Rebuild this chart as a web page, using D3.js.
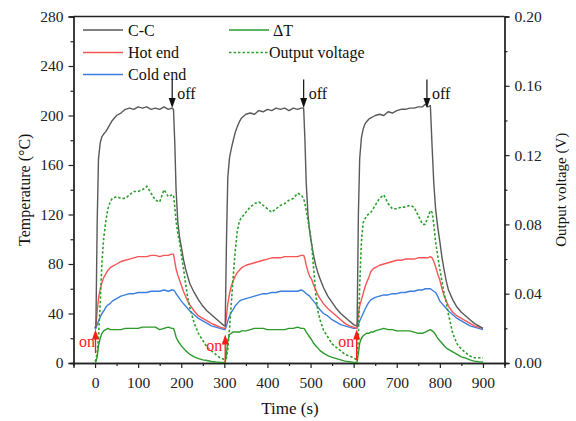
<!DOCTYPE html>
<html><head><meta charset="utf-8">
<script src="https://cdn.jsdelivr.net/npm/d3@7/dist/d3.min.js"></script>
<style>
body{margin:0;background:#fff;}
svg{display:block;font-family:"Liberation Serif","Times New Roman",serif;}
</style></head>
<body><svg id="c" width="576" height="421"></svg>
<script>
const time = [0,2,5,8,12,16,20,25,30,35,40,50,60,70,80,90,100,110,120,130,140,150,160,170,178,182,185,188,192,196,200,205,210,215,220,230,240,250,260,270,280,290,300,
302,305,308,312,316,320,325,330,335,340,350,360,370,380,390,400,410,420,430,440,450,460,470,478,484,487,490,494,498,502,507,512,517,522,530,540,550,560,570,580,590,600,606,
608,611,614,618,622,626,630,635,640,645,650,660,670,680,690,700,710,720,730,740,750,760,766,772,778,782,786,790,795,800,805,810,815,820,830,840,850,860,870,880,890,900];

const ccTemp = [28,30,115,165,178,183,185,187,190,193,196,200,202,205,206,205,207,206,207,205,206,205,207,205,206,205,178,140,114,102,94,84,76,70,64,57,51,46,42,39,36,33,30,
30,100,150,166,173,179,186,191,195,198,201,202,201,204,203,205,204,206,205,206,204,206,205,206,206,180,145,120,106,97,87,79,73,68,61,54,49,44,40,37,34,31,30,
30,120,165,182,189,193,195,197,198,199,200,201,200,203,202,204,205,205,206,206,207,207,209,207,208,175,145,125,110,98,85,75,66,59,51,45,41,38,35,32,30,28];

const hotEnd = [28,30,42,52,60,65,69,72,75,77,78,80,82,83,84,85,86,86,86,87,87,86,87,87,88,88,82,76,71,67,63,58,54,50,47,42,38,36,34,32,30.5,29,28,
28,38,48,56,62,66,70,73,75,77,79,80,81,82,83,84,85,85,85,86,86,86,86,87,87,84,79,74,70,68,63,59,55,52,48,44,41,38,35,32,30,29,28,
29,40,46,51,56,61,65,69,74,76,77,79,80,81,82,83,83,84,84,84,85,85,85,85,86,85,82,78,72,67,60,54,50,46,41,38,36,34,32,30,29,28];

const coldEnd = [27,28,31,34,37,40,42,45,47,48,50,52,54,55,56,56,57,57,57,58,58,58,59,58,59,59,58,56,54,52,50,48,46,44,42,39,36,34,32,30,29,28,27,
27,30,34,38,41,43,46,48,50,51,52,53,54,55,56,56,57,57,58,58,58,58,58,59,58,57,56,55,54,52,50,48,45,43,40,38,35,33,31,30,29,28,28,
28,31,34,37,40,43,46,49,51,52,53,54,55,55,56,56,57,57,58,58,59,59,60,60,60,59,58,57,54,50,48,46,44,42,39,36,34,32,30,29,28,27];

const deltaT = [0,1,5,14,20,24,26,27,28,27,27,27,27,28,28,28,28,29,29,29,29,27,28,29,28,28,25,21,18,16,14,12,10,8.5,7,5,3.5,2.5,2,1.2,0.8,0.6,0.5,
0.5,8,18,23,24,25,25,25,25,26,26,27,28,28,28,27,27,27,27,27,28,28,29,28,28,27,25,23,21,19,16,14,12,10,8,6,4.5,3.5,2.5,1.5,1,0.5,0.5,
0.5,8,16,20,22,23,24,24,25,25,26,27,28,27,27,26,26,26,26,25,24,24,25,26,27,26,25,23,20,18,16,14,12,11,9,7,5,4,2.5,1.5,1,0.8];

const voltage = [0.001,0.002,0.006,0.015,0.035,0.058,0.072,0.082,0.089,0.093,0.095,0.096,0.095,0.095,0.097,0.099,0.099,0.100,0.102,0.098,0.094,0.093,0.100,0.096,0.097,0.097,0.090,0.082,0.075,0.070,0.063,0.055,0.046,0.038,0.032,0.023,0.017,0.013,0.009,0.007,0.005,0.003,0.002,
0.002,0.003,0.008,0.020,0.034,0.048,0.064,0.076,0.082,0.084,0.087,0.090,0.092,0.093,0.091,0.089,0.087,0.089,0.091,0.092,0.094,0.095,0.098,0.097,0.095,0.092,0.088,0.082,0.077,0.070,0.055,0.040,0.030,0.025,0.019,0.015,0.011,0.009,0.007,0.005,0.004,0.003,0.002,
0.002,0.015,0.045,0.070,0.081,0.083,0.085,0.086,0.087,0.089,0.091,0.095,0.097,0.092,0.089,0.089,0.090,0.090,0.091,0.090,0.085,0.080,0.080,0.084,0.088,0.087,0.080,0.070,0.062,0.054,0.047,0.040,0.035,0.028,0.017,0.011,0.008,0.006,0.004,0.003,0.003,0.003];

const xTicks = [0,100,200,300,400,500,600,700,800,900];
const xMinor = [-50,50,150,250,350,450,550,650,750,850,950];
const yTicks = [0,40,80,120,160,200,240,280];
const yMinor = [20,60,100,140,180,220,260];
const vTicks = [0.00,0.04,0.08,0.12,0.16,0.20];
const vMinor = [0.02,0.06,0.10,0.14,0.18];

const seriesNames = ["C-C","Hot end","Cold end","\u0394T","Output voltage"];
const seriesColors = ["#595959","#f75555","#3a7fe0","#2b9a2b","#2ca02c"];

const offTimes = [179,484,770], offFrom = [229,229,229], offTo = [206,206,206];
const onTimes = [1,302,607], onFrom = [8,0,2], onTo = [27,23,27];
const onLabelTimes = [-37,258,564], onLabelY = [13,10,13];

const svg = d3.select("#c");
const L=73.5, R=504.5, T=16.5, B=363;
const x = d3.scaleLinear().domain([-50,950]).range([L,R]);
const y = d3.scaleLinear().domain([0,280]).range([B,T]);
const yv = d3.scaleLinear().domain([0,0.2]).range([B,T]);
const font = "15.5px";
const axCol = "#222";

function styleAxis(g, labels){
  g.selectAll("path").attr("stroke",axCol).attr("stroke-width",1.3);
  g.selectAll("line").attr("stroke",axCol).attr("stroke-width",1.2);
  g.selectAll("text").attr("fill","#222").style("font-size",font).style("font-family","'Liberation Serif',serif");
  if(!labels) g.selectAll("text").remove();
}
svg.append("g").attr("transform",`translate(0,${B})`).call(d3.axisBottom(x).tickValues(xMinor).tickSize(3).tickFormat("")).call(g=>styleAxis(g,false));
svg.append("g").attr("transform",`translate(0,${B})`).call(d3.axisBottom(x).tickValues(xTicks).tickSize(5).tickPadding(9).tickFormat(d3.format("d"))).call(g=>styleAxis(g,true));
svg.append("g").attr("transform",`translate(${L},0)`).call(d3.axisLeft(y).tickValues(yMinor).tickSize(3).tickFormat("")).call(g=>styleAxis(g,false));
svg.append("g").attr("transform",`translate(${L},0)`).call(d3.axisLeft(y).tickValues(yTicks).tickSize(5).tickPadding(5).tickFormat(d3.format("d"))).call(g=>styleAxis(g,true));
svg.append("g").attr("transform",`translate(${R},0)`).call(d3.axisRight(yv).tickValues(vMinor).tickSize(3).tickFormat("")).call(g=>styleAxis(g,false));
svg.append("g").attr("transform",`translate(${R},0)`).call(d3.axisRight(yv).tickValues(vTicks).tickSize(5).tickPadding(5).tickFormat(d3.format(".2f"))).call(g=>styleAxis(g,true));
svg.append("line").attr("x1",L).attr("x2",R).attr("y1",T).attr("y2",T).attr("stroke",axCol).attr("stroke-width",1.3);

const tempSeries = [ccTemp, hotEnd, coldEnd, deltaT];
const lineT = d3.line().x((d,i)=>x(time[i])).y(d=>y(d));
const lineV = d3.line().x((d,i)=>x(time[i])).y(d=>yv(d));
[3,2,1,0].forEach(k=>{
  svg.append("path").datum(tempSeries[k]).attr("d",lineT).attr("fill","none")
    .attr("stroke",seriesColors[k]).attr("stroke-width",1.4).attr("stroke-linejoin","round");
});
svg.append("path").datum(voltage).attr("d",lineV).attr("fill","none")
  .attr("stroke",seriesColors[4]).attr("stroke-width",1.6).attr("stroke-dasharray","2.5,2");

const legX1=[83,229], legY=[30,52.5,74.5];
const legItems = [[0,0,0],[0,1,1],[0,2,2],[1,0,3],[1,1,4]];
legItems.forEach(([c,r,k])=>{
  const lx = legX1[c];
  svg.append("line").attr("x1",lx).attr("x2",lx+40).attr("y1",legY[r]).attr("y2",legY[r])
    .attr("stroke",seriesColors[k]).attr("stroke-width",1.5)
    .attr("stroke-dasharray",k===4?"2.5,2":null);
  svg.append("text").attr("x",lx+(k===4?40:(k===3?44:45))).attr("y",legY[r]+5.5)
    .style("font-size","16px").attr("fill","#111").text(seriesNames[k]);
});

offTimes.forEach((t,i)=>{
  const xx=x(t), y1=y(offFrom[i]), y2=y(offTo[i]);
  svg.append("line").attr("x1",xx).attr("x2",xx).attr("y1",y1).attr("y2",y2-6).attr("stroke","#111").attr("stroke-width",1.2);
  svg.append("path").attr("d",`M${xx-3.5},${y2-10}L${xx+3.5},${y2-10}L${xx},${y2}Z`).attr("fill","#111");
  svg.append("text").attr("x",xx+5).attr("y",y(offFrom[i])+19).style("font-size","16px").attr("fill","#111").text("off");
});
onTimes.forEach((t,i)=>{
  const xx=x(t), y1=y(onFrom[i]), y2=y(onTo[i]);
  svg.append("line").attr("x1",xx).attr("x2",xx).attr("y1",y1).attr("y2",y2+6).attr("stroke","#ff1a1a").attr("stroke-width",1.3);
  svg.append("path").attr("d",`M${xx-3.5},${y2+10}L${xx+3.5},${y2+10}L${xx},${y2}Z`).attr("fill","#ff1a1a");
  svg.append("text").attr("x",x(onLabelTimes[i])).attr("y",y(onLabelY[i])).style("font-size","16px").attr("fill","#ff2020").text("on");
});

svg.append("text").attr("transform",`translate(30,${(T+B)/2}) rotate(-90)`).attr("text-anchor","middle")
  .style("font-size","16px").attr("fill","#111").text("Temperature (\u00B0C)");
svg.append("text").attr("transform",`translate(566,${(T+B)/2}) rotate(-90)`).attr("text-anchor","middle")
  .style("font-size","15px").attr("fill","#111").text("Output voltage (V)");
svg.append("text").attr("x",290).attr("y",414).attr("text-anchor","middle")
  .style("font-size","17px").attr("fill","#111").text("Time (s)");
</script></body></html>
